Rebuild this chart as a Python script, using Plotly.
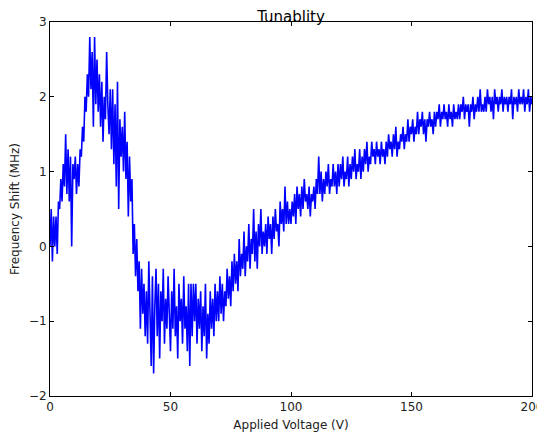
import numpy as np
import plotly.graph_objects as go

shift_000_010 = [0.0, 0.5, -0.2, 0.4, 0.0, 0.4, -0.1, 0.6, 0.5, 0.9, 0.6, 1.1, 0.8, 1.5, 0.7, 1.3, 0.6, 1.2, 0.0, 1.1]
shift_010_020 = [0.9, 1.2, 0.7, 1.1, 0.8, 1.3, 1.2, 1.6, 1.4, 2.0, 1.8, 2.3, 2.0, 2.8, 2.1, 2.6, 1.6, 2.8, 1.9, 2.5]
shift_020_030 = [1.8, 2.3, 1.6, 2.2, 1.4, 2.0, 1.7, 2.6, 1.9, 1.5, 2.1, 1.3, 2.1, 1.1, 1.9, 0.8, 2.2, 0.5, 1.7, 1.2]
shift_030_040 = [1.6, 1.0, 1.8, 0.9, 1.4, 0.4, 1.2, 0.6, 0.9, -0.1, 0.3, -0.4, 0.1, -0.6, -0.2, -1.1, -0.3, -0.9, -0.5, -1.2]
shift_040_050 = [-0.6, -1.3, -0.2, -1.0, -1.6, -0.4, -1.7, -0.8, -0.3, -1.2, -0.5, -1.5, -0.6, -1.0, -0.3, -1.3, -0.7, -1.1, -0.4, -0.9]
shift_050_060 = [-1.4, -0.6, -1.1, -0.3, -1.2, -0.8, -1.5, -0.5, -1.0, -0.7, -1.3, -0.4, -1.1, -0.8, -1.4, -0.5, -1.6, -0.5, -1.2, -0.5]
shift_060_070 = [-1.0, -0.5, -1.3, -0.7, -1.1, -0.6, -1.4, -0.8, -1.2, -0.5, -1.5, -0.9, -1.3, -0.6, -1.1, -0.7, -1.2, -0.5, -1.0, -0.6]
shift_070_080 = [-1.0, -0.4, -0.9, -0.5, -1.0, -0.6, -0.8, -0.3, -0.7, -0.4, -0.8, -0.2, -0.6, -0.1, -0.5, -0.2, -0.6, 0.1, -0.4, -0.1]
shift_080_090 = [-0.3, 0.2, -0.4, 0.0, -0.2, 0.3, -0.3, 0.1, -0.1, 0.5, -0.2, 0.2, -0.3, 0.3, 0.0, 0.5, -0.1, 0.2, 0.0, 0.3]
shift_090_100 = [-0.1, 0.4, 0.1, 0.3, -0.1, 0.4, 0.1, 0.5, 0.2, 0.3, 0.0, 0.6, 0.3, 0.5, 0.2, 0.8, 0.3, 0.6, 0.3, 0.5]
shift_100_110 = [0.3, 0.6, 0.4, 0.7, 0.3, 0.8, 0.5, 0.7, 0.4, 0.8, 0.5, 0.9, 0.6, 0.7, 0.5, 0.8, 0.4, 0.7, 0.6, 0.8]
shift_110_120 = [0.5, 0.9, 0.7, 1.2, 0.7, 1.0, 0.6, 0.9, 0.7, 1.0, 0.8, 1.1, 0.7, 0.9, 0.8, 1.1, 0.8, 1.0, 0.7, 1.1]
shift_120_130 = [0.8, 1.1, 0.9, 1.2, 0.8, 1.0, 0.9, 1.2, 0.8, 1.1, 0.9, 1.2, 1.0, 1.3, 0.9, 1.1, 1.0, 1.3, 0.9, 1.2]
shift_130_140 = [1.0, 1.3, 1.1, 1.4, 1.0, 1.2, 1.1, 1.4, 1.2, 1.3, 1.1, 1.4, 1.2, 1.3, 1.1, 1.4, 1.2, 1.3, 1.1, 1.4]
shift_140_150 = [1.2, 1.5, 1.3, 1.4, 1.2, 1.5, 1.3, 1.6, 1.2, 1.4, 1.3, 1.5, 1.4, 1.6, 1.3, 1.5, 1.4, 1.7, 1.4, 1.6]
shift_150_160 = [1.5, 1.7, 1.4, 1.6, 1.5, 1.8, 1.5, 1.7, 1.6, 1.8, 1.5, 1.7, 1.4, 1.7, 1.6, 1.8, 1.6, 1.7, 1.5, 1.8]
shift_160_170 = [1.6, 1.8, 1.7, 1.9, 1.6, 1.8, 1.7, 1.9, 1.7, 1.8, 1.6, 1.9, 1.7, 1.8, 1.6, 1.9, 1.7, 1.8, 1.7, 1.9]
shift_170_180 = [1.7, 1.9, 1.8, 2.0, 1.7, 1.9, 1.8, 1.9, 1.6, 1.9, 1.8, 2.0, 1.7, 1.9, 1.8, 2.0, 1.8, 2.1, 1.8, 1.9]
shift_180_190 = [1.8, 2.0, 1.8, 2.1, 1.9, 2.0, 1.8, 2.0, 1.7, 2.1, 1.9, 2.0, 1.8, 2.0, 1.9, 2.1, 1.8, 2.0, 1.9, 2.0]
shift_190_200 = [1.8, 2.0, 1.9, 2.1, 1.7, 2.0, 1.9, 2.0, 1.8, 2.1, 1.9, 2.0, 1.9, 2.1, 1.8, 2.0, 1.9, 2.1, 1.8, 2.0, 1.9]

shift = (shift_000_010 + shift_010_020 + shift_020_030 + shift_030_040 + shift_040_050
         + shift_050_060 + shift_060_070 + shift_070_080 + shift_080_090 + shift_090_100
         + shift_100_110 + shift_110_120 + shift_120_130 + shift_130_140 + shift_140_150
         + shift_150_160 + shift_160_170 + shift_170_180 + shift_180_190 + shift_190_200)

voltage = np.arange(len(shift)) * 0.5

x_ticks = [0, 50, 100, 150, 200]
y_ticks = [-2, -1, 0, 1, 2, 3]

fig = go.Figure(go.Scatter(x=voltage, y=shift, mode="lines",
                           line=dict(color="#0000ff", width=1.6),
                           showlegend=False))

font = "DejaVu Sans, Liberation Sans, sans-serif"
axis_common = dict(showline=True, linecolor="black", linewidth=1, mirror="ticks",
                   ticks="inside", ticklen=4, tickwidth=1, tickcolor="black",
                   showgrid=False, zeroline=False, automargin=False,
                   tickfont=dict(family=font, size=12, color="#222222"))

# the page body has an 8px default margin, so the figure is sized 8px smaller
fig.update_layout(
    width=537, height=425,
    margin=dict(l=42, r=13, t=14, b=37),
    paper_bgcolor="white", plot_bgcolor="white",
    title=dict(text="Tunablity", x=0.5, xanchor="center", xref="paper",
               y=0.992, yanchor="top", pad=dict(t=0, b=0),
               font=dict(family=font, size=15, color="black")),
    xaxis=dict(range=[0, 200], tickvals=x_ticks,
               title=dict(text="Applied Voltage (V)", standoff=7,
                          font=dict(family=font, size=12, color="#222222")),
               **axis_common),
    yaxis=dict(range=[-2, 3], tickvals=y_ticks,
               title=dict(text="Frequency Shift (MHz)", standoff=12,
                          font=dict(family=font, size=12, color="#222222")),
               **axis_common),
)

fig.write_html("out.html")
